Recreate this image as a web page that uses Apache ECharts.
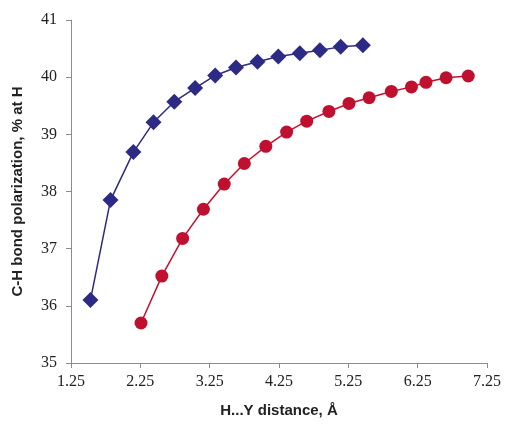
<!DOCTYPE html>
<html>
<head>
<meta charset="utf-8">
<script src="https://cdn.jsdelivr.net/npm/echarts@6/dist/echarts.min.js"></script>
<style>
  html, body { margin: 0; padding: 0; background: #fff; }
  #chart { width: 505px; height: 430px; }
</style>
</head>
<body>
<div id="chart"></div>
<script>
// blue diamonds
const blueX = [1.53, 1.82, 2.15, 2.44, 2.74, 3.04, 3.33, 3.63, 3.94, 4.24, 4.55, 4.84, 5.14, 5.46];
const blueY = [36.10, 37.85, 38.69, 39.21, 39.57, 39.81, 40.03, 40.17, 40.27, 40.36, 40.42, 40.47, 40.53, 40.56];
// red circles
const redX = [2.26, 2.56, 2.86, 3.16, 3.46, 3.75, 4.06, 4.36, 4.65, 4.97, 5.26, 5.55, 5.87, 6.16, 6.37, 6.66, 6.98];
const redY = [35.70, 36.52, 37.18, 37.69, 38.13, 38.49, 38.79, 39.04, 39.23, 39.40, 39.54, 39.64, 39.75, 39.83, 39.91, 39.99, 40.02];

const xTicks = [1.25, 2.25, 3.25, 4.25, 5.25, 6.25, 7.25];
const yTicks = [35, 36, 37, 38, 39, 40, 41];

const pairs = (xs, ys) => xs.map((x, i) => [x, ys[i]]);

const chart = echarts.init(document.getElementById('chart'), null, { renderer: 'canvas' });

const axisLine = { show: true, lineStyle: { color: '#8c8c8c', width: 1 } };
const tickFont = { fontFamily: 'Liberation Serif', fontSize: 16, color: '#222' };

chart.setOption({
  animation: false,
  grid: { left: 71, right: 18, top: 20, bottom: 67 },
  xAxis: {
    type: 'value',
    min: xTicks[0],
    max: xTicks[xTicks.length - 1],
    interval: 1,
    axisLine: axisLine,
    axisTick: { show: true, length: 5, lineStyle: { color: '#8c8c8c' } },
    splitLine: { show: false },
    axisLabel: Object.assign({ margin: 11, formatter: v => v.toFixed(2) }, tickFont),
    name: 'H...Y distance, Å',
    nameLocation: 'middle',
    nameGap: 40,
    nameTextStyle: { fontFamily: 'Liberation Sans', fontWeight: 'bold', fontSize: 15, color: '#222' }
  },
  yAxis: {
    type: 'value',
    min: yTicks[0],
    max: yTicks[yTicks.length - 1],
    interval: 1,
    axisLine: axisLine,
    axisTick: { show: true, length: 5, lineStyle: { color: '#8c8c8c' } },
    splitLine: { show: false },
    axisLabel: Object.assign({ margin: 14 }, tickFont),
    name: 'C-H bond polarization, % at H',
    nameLocation: 'middle',
    nameGap: 46,
    nameTextStyle: { fontFamily: 'Liberation Sans', fontWeight: 'bold', fontSize: 15, color: '#222' }
  },
  series: [
    {
      type: 'line',
      data: pairs(blueX, blueY),
      symbol: 'diamond',
      symbolSize: 16,
      showAllSymbol: true,
      lineStyle: { color: '#2c2a84', width: 1.5 },
      itemStyle: { color: '#2c2a84', borderWidth: 0 }
    },
    {
      type: 'line',
      data: pairs(redX, redY),
      symbol: 'circle',
      symbolSize: 13,
      showAllSymbol: true,
      lineStyle: { color: '#c8102e', width: 1.5 },
      itemStyle: { color: '#c0102f', borderWidth: 0 }
    }
  ]
});
</script>
</body>
</html>
